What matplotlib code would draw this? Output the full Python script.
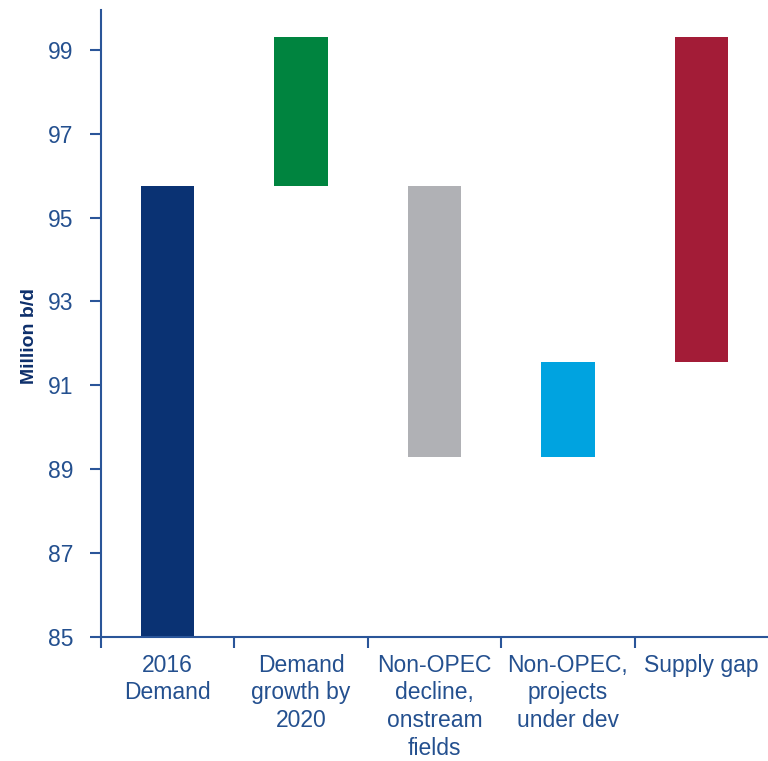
import numpy as np
import matplotlib.pyplot as plt

plt.rcParams['font.family'] = ['Liberation Sans', 'DejaVu Sans']

categories = ['2016\nDemand', 'Demand\ngrowth by\n2020', 'Non-OPEC\ndecline,\nonstream\nfields',
              'Non-OPEC,\nprojects\nunder dev', 'Supply gap']
bar_bottom = [85.0, 95.75, 89.3, 89.3, 91.55]
bar_top = [95.75, 99.3, 95.75, 91.55, 99.3]
bar_colours = ['#0a3273', '#00843f', '#b0b1b5', '#00a3e0', '#a31c37']
y_ticks = [85, 87, 89, 91, 93, 95, 97, 99]

text_col = '#24508f'
axis_col = '#2a5599'

fig = plt.figure(figsize=(7.68, 7.61), dpi=100)
ax = fig.add_axes([0.1315, 0.163, 0.8685, 0.824])

x = np.arange(len(categories))
heights = np.array(bar_top) - np.array(bar_bottom)
ax.bar(x, heights, bottom=bar_bottom, width=0.4, color=bar_colours)

ax.set_xlim(-0.5, len(categories) - 0.5)
ax.set_ylim(85, 99.95)
ax.set_yticks(y_ticks)
ax.set_yticklabels([str(v) for v in y_ticks], fontsize=16.5, color=text_col)

# boundary ticks (major) and centred labels (minor)
ax.set_xticks(np.arange(len(categories)) - 0.5)
ax.set_xticklabels([])
ax.set_xticks(x, minor=True)
ax.set_xticklabels(categories, minor=True, fontsize=16.5, color=text_col,
                   linespacing=1.27, va='top')
ax.tick_params(axis='x', which='minor', length=0, pad=12)
ax.tick_params(axis='x', which='major', length=8, width=1.5, color=axis_col)
ax.tick_params(axis='y', length=8, width=1.5, color=axis_col, pad=12)

for side in ['top', 'right']:
    ax.spines[side].set_visible(False)
for side in ['left', 'bottom']:
    ax.spines[side].set_color(axis_col)
    ax.spines[side].set_linewidth(1.5)

ax.set_ylabel('Million b/d', fontsize=14, fontweight='bold', color='#0d2f6b')
ax.yaxis.set_label_coords(-0.094, 0.48)

fig.savefig('out.png', dpi=100)
